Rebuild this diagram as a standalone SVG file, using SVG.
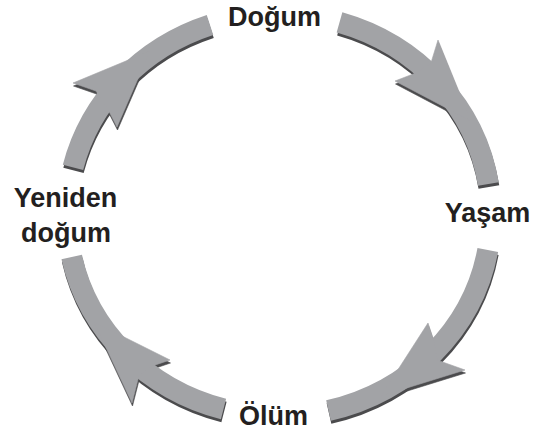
<svg xmlns="http://www.w3.org/2000/svg" width="537" height="434" viewBox="0 0 537 434">
<style>
.band{fill:none;stroke-width:21;stroke-linecap:butt}
.head{stroke-width:0.6}
.lbl{font-family:"Liberation Sans",Arial,sans-serif;font-weight:bold;font-size:27px;fill:#231f20;text-anchor:middle}
</style>
<defs>
<g id="arrowShapes">
<g id="arrow-dogum-yasam">
<path class="band" d="M339.5,22.4 A212,201 0 0 1 488.4,184"/>
<polygon class="head" points="430.8,63.4 438,40 471,121 395,81 416.5,72.7"/>
</g>
<g id="arrow-yasam-olum">
<path class="band" d="M487.8,250 A212,201 0 0 1 328.5,410.5"/>
<polygon class="head" points="437.6,360.2 465,370 381,396 428,323 433.8,340.3"/>
</g>
<g id="arrow-olum-yeniden">
<path class="band" d="M223.5,409 A212,201 0 0 1 71.7,257"/>
<polygon class="head" points="138.8,376.3 132,403 94,322 170,360 152.3,366"/>
</g>
<g id="arrow-yeniden-dogum">
<path class="band" d="M73,167.4 A212,201 0 0 1 210,25"/>
<polygon class="head" points="96,91 73,83 150,51 117,127 108.3,109.9"/>
</g>
</g>
</defs>
<rect width="537" height="434" fill="#ffffff"/>
<g id="connectors">
<use href="#arrowShapes" transform="translate(0.5,3)" fill="#4b4b4d" stroke="#4b4b4d"/>
<use href="#arrowShapes" fill="#a2a3a6" stroke="#a2a3a6"/>
</g>
<g id="node-dogum"><text class="lbl" x="274.5" y="26">Doğum</text></g>
<g id="node-yasam"><text class="lbl" x="487.5" y="222">Yaşam</text></g>
<g id="node-yeniden-dogum"><text class="lbl" x="65.5" y="207">Yeniden</text><text class="lbl" x="66" y="242">doğum</text></g>
<g id="node-olum"><text class="lbl" x="273.5" y="425">Ölüm</text></g>
</svg>
